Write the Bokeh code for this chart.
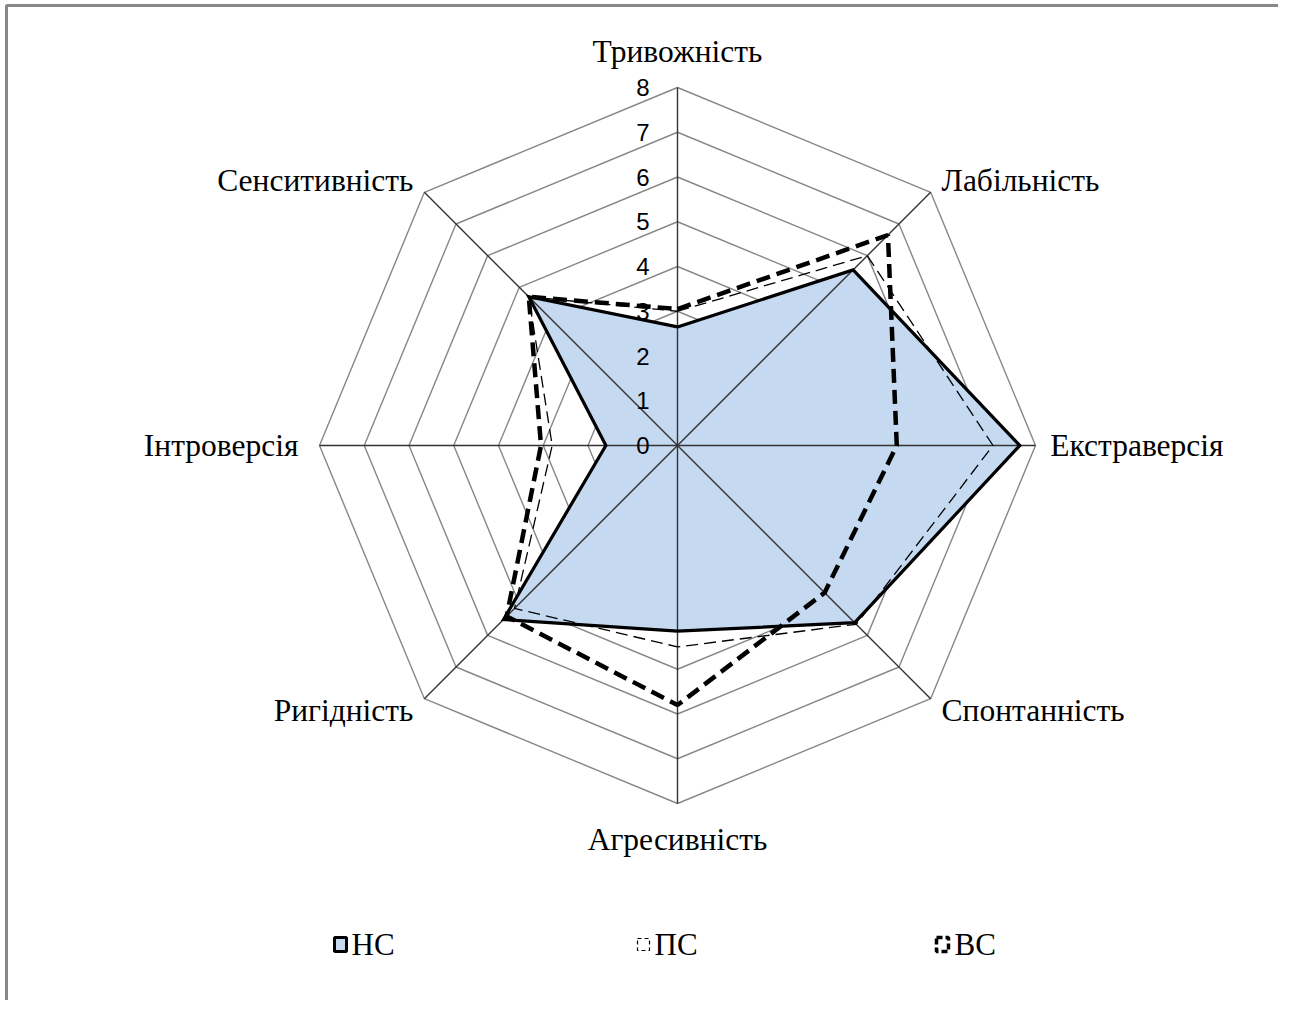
import math
from bokeh.plotting import figure
from bokeh.models import Range1d
from bokeh.core.properties import value
from bokeh.embed import file_html
from bokeh.resources import INLINE

categories = ["Тривожність", "Лабільність", "Екстраверсія", "Спонтанність",
              "Агресивність", "Ригідність", "Інтроверсія", "Сенситивність"]
series_names = ["НС", "ПС", "ВС"]
hs_values = [2.65, 5.55, 7.65, 5.6, 4.15, 5.5, 1.6, 4.7]
ps_values = [3.0, 6.0, 7.05, 5.65, 4.5, 5.15, 2.8, 4.7]
vs_values = [3.05, 6.65, 4.9, 4.65, 5.8, 5.4, 3.05, 4.7]
tick_values = [0, 1, 2, 3, 4, 5, 6, 7, 8]
r_max = 8

W, H = 1278, 1000
S = 44.75            # px per unit
CX, CY = 677, 445    # center in screenshot px
OX, OY = 0, 0        # figure origin in screenshot

def px(x):
    return (x - CX) / S

def py(y):
    return (CY - y) / S

p = figure(width=W, height=H, output_backend="svg", toolbar_location=None,
           x_range=Range1d(px(OX), px(OX + W)), y_range=Range1d(py(OY + H), py(OY)),
           min_border=0)
p.axis.visible = False
p.grid.visible = False
p.outline_line_color = None
p.background_fill_color = "white"

n = len(categories)
angles = [math.pi / 2 - i * 2 * math.pi / n for i in range(n)]

def poly(vals):
    xs = [v * math.cos(a) for v, a in zip(vals, angles)]
    ys = [v * math.sin(a) for v, a in zip(vals, angles)]
    return xs + [xs[0]], ys + [ys[0]]

# rings
for k in tick_values[1:]:
    xs, ys = poly([k] * n)
    p.line(xs, ys, line_color="#878787", line_width=1.4)

# НС fill
hx, hy = poly(hs_values)
p.patch(hx, hy, fill_color="#C5D9F1", line_color=None)

# spokes
for a in angles:
    p.line([0, r_max * math.cos(a)], [0, r_max * math.sin(a)], line_color="#333333", line_width=1.4)

# series lines
px_, py_ = poly(ps_values)
p.line(px_, py_, line_color="black", line_width=1.3, line_dash="12 6")
vx, vy = poly(vs_values)
p.line(vx, vy, line_color="black", line_width=4.5, line_dash="14 7")
p.line(hx, hy, line_color="black", line_width=3.2, line_join="miter")

# tick labels
p.text([px(649)] * len(tick_values), [t for t in tick_values], text=[str(t) for t in tick_values],
       text_align="right", text_baseline="middle", text_font=value("Liberation Sans"),
       text_font_size="24px", text_color="black")

# category labels
serif = value("Liberation Serif")
lab_x, lab_y, lab_align = [], [], []
for i, a in enumerate(angles):
    c, s = math.cos(a), math.sin(a)
    if abs(c) < 0.1:
        lab_x.append(0.0)
        lab_y.append(8.8 * (1 if s > 0 else -1))
        lab_align.append("center")
    elif abs(s) < 0.1:
        lab_x.append(8.33 if c > 0 else -8.47)
        lab_y.append(0.0)
        lab_align.append("left" if c > 0 else "right")
    else:
        lab_x.append(5.9 * (1 if c > 0 else -1))
        lab_y.append(5.92 * (1 if s > 0 else -1))
        lab_align.append("left" if c > 0 else "right")
for i in range(n):
    p.text([lab_x[i]], [lab_y[i]], text=[categories[i]], text_align=lab_align[i],
           text_baseline="middle", text_font=serif, text_font_size="31.5px", text_color="black")

# legend
leg_y = py(944)
mk_x = [px(340), px(643), px(942)]
tx_x = [px(351), px(654), px(954)]
p.rect([mk_x[0]], [leg_y], width=12, height=14, width_units="screen", height_units="screen",
       fill_color="#C5D9F1", line_color="black", line_width=3)
p.rect([mk_x[1]], [leg_y], width=12, height=12, width_units="screen", height_units="screen",
       fill_color="white", line_color="black", line_width=1.2, line_dash="4 3")
p.rect([mk_x[2]], [leg_y], width=12, height=14, width_units="screen", height_units="screen",
       fill_color="white", line_color="black", line_width=3.5, line_dash="6 3")
p.text(tx_x, [leg_y] * 3, text=series_names, text_align="left", text_baseline="middle",
       text_font=serif, text_font_size="31px", text_color="black")

# chart frame (top and left edges)
fx0 = px(6)
fy0 = py(5)
p.line([fx0, fx0, px(OX + W)], [py(OY + H), fy0, fy0], line_color="#888888", line_width=3)

open("out.html", "w").write(file_html(p, INLINE))
